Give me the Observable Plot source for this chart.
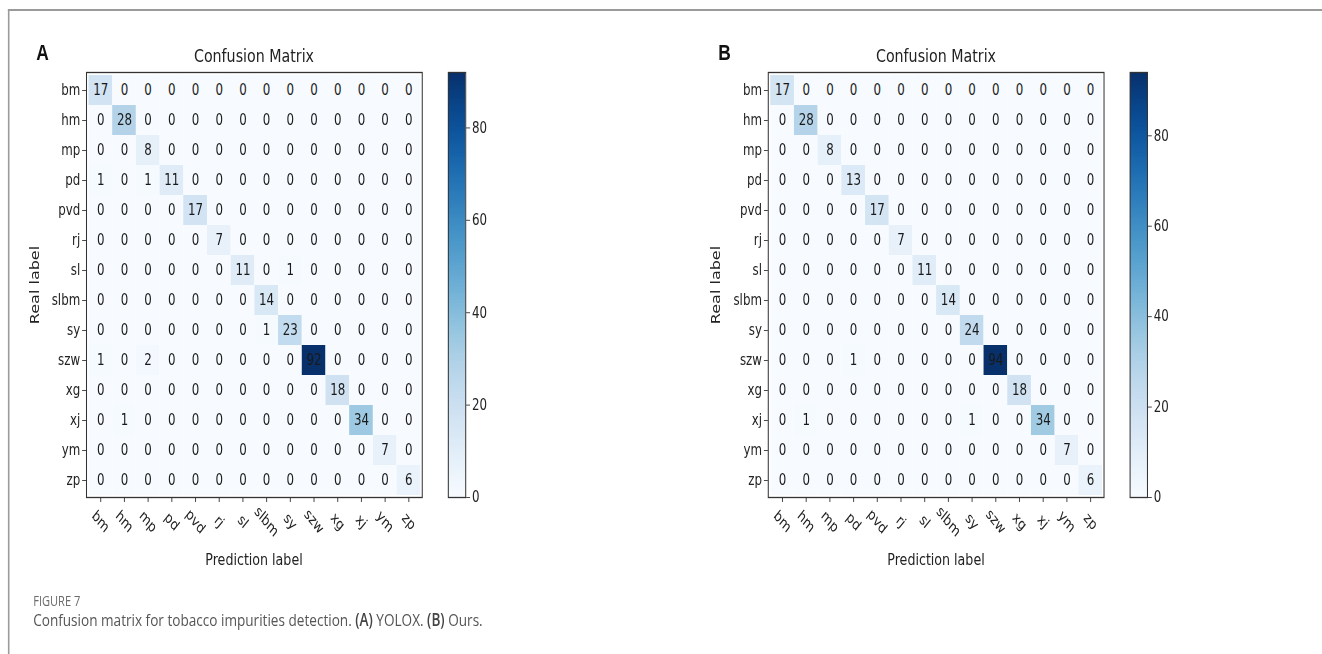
<!DOCTYPE html>
<html>
<head>
<meta charset="utf-8">
<script src="https://cdn.jsdelivr.net/npm/d3@7"></script>
<script src="https://cdn.jsdelivr.net/npm/@observablehq/plot@0.6"></script>
<style>
  html, body { margin: 0; padding: 0; background: #fff; }
  #outer { position: relative; width: 1322px; height: 654px; overflow: hidden; }
  /* the reference picture is horizontally compressed; reproduce that with one scale on the whole page */
  #page { position: absolute; left: 0; top: 0; width: 1674px; height: 654px; transform: scaleX(0.79); transform-origin: 0 0; font-family: "DejaVu Sans", sans-serif; }
  .abs { position: absolute; }
  .border-top { left: 10px; top: 9px; width: 1664px; height: 0; border-top: 2px solid #9a9a9a; }
  .border-left { left: 10px; top: 9px; width: 0; height: 660px; border-left: 2px solid #9a9a9a; }
  .panel-letter { font-family: "Liberation Sans", Arial, sans-serif; font-weight: bold; font-size: 22px; color: #111; line-height: 24px; }
  .title { font-size: 18px; color: #222; transform: translateX(-50%); white-space: nowrap; line-height: 22px; }
  .xlabel { font-size: 16px; color: #222; transform: translateX(-50%); white-space: nowrap; line-height: 20px; }
  .ylabel { font-size: 16px; color: #222; transform: translate(-50%, -50%) rotate(-90deg); white-space: nowrap; line-height: 20px; }
  .fig { font-family: "Open Sans", "Noto Sans", sans-serif; font-size: 14px; color: #6b6b6b; line-height: 18px; }
  .caption { font-family: "Open Sans", "Noto Sans", sans-serif; font-size: 17.2px; color: #555; white-space: nowrap; line-height: 22px; }
  .caption b { color: #444; font-weight: 600; }
</style>
</head>
<body>
<div id="outer">
<div id="page">
  <div class="abs border-top"></div>
  <div class="abs border-left"></div>
</div>
</div>
<script>
// ---- Data ----
const classes = ["bm", "hm", "mp", "pd", "pvd", "rj", "sl", "slbm", "sy", "szw", "xg", "xj", "ym", "zp"];

// Panel A: YOLOX (rows = real label, columns = prediction label)
const yoloxMatrix = [
  [17, 0, 0, 0, 0, 0, 0, 0, 0, 0, 0, 0, 0, 0],
  [0, 28, 0, 0, 0, 0, 0, 0, 0, 0, 0, 0, 0, 0],
  [0, 0, 8, 0, 0, 0, 0, 0, 0, 0, 0, 0, 0, 0],
  [1, 0, 1, 11, 0, 0, 0, 0, 0, 0, 0, 0, 0, 0],
  [0, 0, 0, 0, 17, 0, 0, 0, 0, 0, 0, 0, 0, 0],
  [0, 0, 0, 0, 0, 7, 0, 0, 0, 0, 0, 0, 0, 0],
  [0, 0, 0, 0, 0, 0, 11, 0, 1, 0, 0, 0, 0, 0],
  [0, 0, 0, 0, 0, 0, 0, 14, 0, 0, 0, 0, 0, 0],
  [0, 0, 0, 0, 0, 0, 0, 1, 23, 0, 0, 0, 0, 0],
  [1, 0, 2, 0, 0, 0, 0, 0, 0, 92, 0, 0, 0, 0],
  [0, 0, 0, 0, 0, 0, 0, 0, 0, 0, 18, 0, 0, 0],
  [0, 1, 0, 0, 0, 0, 0, 0, 0, 0, 0, 34, 0, 0],
  [0, 0, 0, 0, 0, 0, 0, 0, 0, 0, 0, 0, 7, 0],
  [0, 0, 0, 0, 0, 0, 0, 0, 0, 0, 0, 0, 0, 6]
];

// Panel B: Ours
const oursMatrix = [
  [17, 0, 0, 0, 0, 0, 0, 0, 0, 0, 0, 0, 0, 0],
  [0, 28, 0, 0, 0, 0, 0, 0, 0, 0, 0, 0, 0, 0],
  [0, 0, 8, 0, 0, 0, 0, 0, 0, 0, 0, 0, 0, 0],
  [0, 0, 0, 13, 0, 0, 0, 0, 0, 0, 0, 0, 0, 0],
  [0, 0, 0, 0, 17, 0, 0, 0, 0, 0, 0, 0, 0, 0],
  [0, 0, 0, 0, 0, 7, 0, 0, 0, 0, 0, 0, 0, 0],
  [0, 0, 0, 0, 0, 0, 11, 0, 0, 0, 0, 0, 0, 0],
  [0, 0, 0, 0, 0, 0, 0, 14, 0, 0, 0, 0, 0, 0],
  [0, 0, 0, 0, 0, 0, 0, 0, 24, 0, 0, 0, 0, 0],
  [0, 0, 0, 1, 0, 0, 0, 0, 0, 94, 0, 0, 0, 0],
  [0, 0, 0, 0, 0, 0, 0, 0, 0, 0, 18, 0, 0, 0],
  [0, 1, 0, 0, 0, 0, 0, 0, 1, 0, 0, 34, 0, 0],
  [0, 0, 0, 0, 0, 0, 0, 0, 0, 0, 0, 0, 7, 0],
  [0, 0, 0, 0, 0, 0, 0, 0, 0, 0, 0, 0, 0, 6]
];

const colorbarTicks = [0, 20, 40, 60, 80];
const panelLetters = ["A", "B"];
const panelTitle = "Confusion Matrix";
const xAxisLabel = "Prediction label";
const yAxisLabel = "Real label";
const figureLabel = "FIGURE 7";

// ---- Drawing ----
const page = document.getElementById("page");
const FONT = '"DejaVu Sans", sans-serif';

function place(el, left, top) {
  el.style.position = "absolute";
  el.style.left = left + "px";
  el.style.top = top + "px";
  page.appendChild(el);
  return el;
}
function div(cls, html) {
  const d = document.createElement("div");
  d.className = cls;
  d.innerHTML = html;
  return d;
}

function drawPanel(matrix, letter, offsetX) {
  const cells = [];
  matrix.forEach((row, i) => row.forEach((v, j) => cells.push({real: classes[i], pred: classes[j], value: v})));
  const vmax = d3.max(cells, d => d.value);
  const color = {type: "linear", scheme: "blues", domain: [0, vmax]};

  const matrixPlot = Plot.plot({
    width: 554,
    height: 580,
    marginLeft: 109,
    marginRight: 20,
    marginTop: 72,
    marginBottom: 83,
    style: {fontFamily: FONT, fontSize: "15px", color: "#222", background: "transparent", overflow: "visible"},
    x: {domain: classes, padding: 0, axis: null},
    y: {domain: classes, padding: 0, axis: null},
    color,
    marks: [
      Plot.cell(cells, {x: "pred", y: "real", fill: "value"}),
      Plot.text(cells, {x: "pred", y: "real", text: d => String(d.value), fill: "#1a1a1a", fontSize: 15}),
      Plot.frame({stroke: "#333", strokeWidth: 1.3}),
      Plot.axisY(classes, {anchor: "left", tickSize: 5, tickPadding: 3, fontSize: 15, label: null, stroke: "#333"}),
      Plot.axisX(classes, {anchor: "bottom", tickSize: 5, tickRotate: 45, textAnchor: "middle", lineAnchor: "middle", tickPadding: 19, fontSize: 15, label: null, stroke: "#333"})
    ]
  });
  place(matrixPlot, offsetX, 0);

  // colour bar: a continuous ramp of the same colour scale
  const step = vmax / 300;
  const steps = d3.range(0, vmax, step);
  const barPlot = Plot.plot({
    width: 86,
    height: 580,
    marginLeft: 13,
    marginRight: 51,
    marginTop: 72,
    marginBottom: 83,
    style: {fontFamily: FONT, fontSize: "15px", color: "#222", background: "transparent", overflow: "visible"},
    x: {domain: [0, 1], axis: null},
    y: {domain: [0, vmax], axis: null},
    color,
    marks: [
      Plot.rect(steps, {x1: 0, x2: 1, y1: d => d, y2: d => Math.min(vmax, d + step * 1.6), fill: d => d + step / 2, shapeRendering: "crispEdges"}),
      Plot.frame({stroke: "#333", strokeWidth: 1.3}),
      Plot.axisY(colorbarTicks, {anchor: "right", tickSize: 5, tickPadding: 3, fontSize: 15, label: null, stroke: "#333"})
    ]
  });
  place(barPlot, offsetX + 554, 0);

  place(div("panel-letter", letter), offsetX + 46, 41);
  place(div("title", panelTitle), offsetX + 321.5, 45);
  place(div("xlabel", xAxisLabel), offsetX + 321.5, 550);
  place(div("ylabel", yAxisLabel), offsetX + 44, 285);
}

drawPanel(yoloxMatrix, panelLetters[0], 0);
drawPanel(oursMatrix, panelLetters[1], 863.3);

place(div("fig", figureLabel), 42, 592);
place(div("caption", "Confusion matrix for tobacco impurities detection. <b>(A)</b> YOLOX. <b>(B)</b> Ours."), 42, 609);
</script>
</body>
</html>
